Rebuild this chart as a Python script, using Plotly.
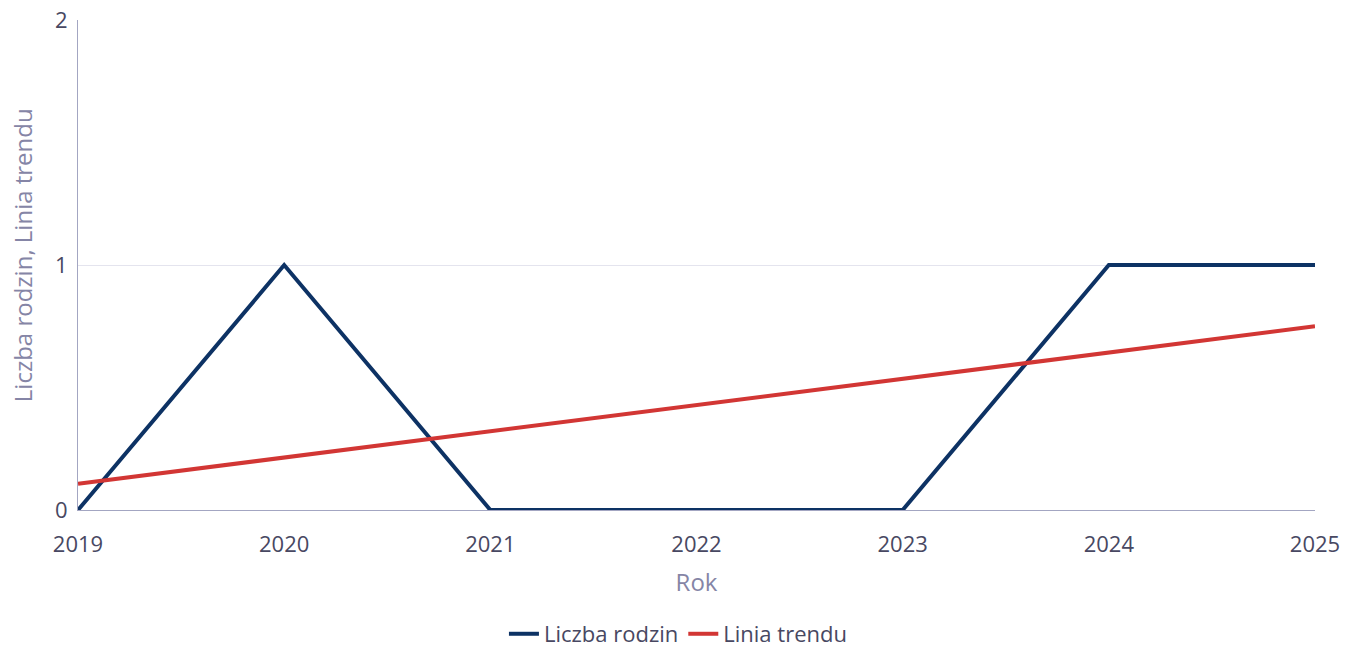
import plotly.graph_objects as go

years = [2019, 2020, 2021, 2022, 2023, 2024, 2025]
liczba_rodzin = [0, 1, 0, 0, 0, 1, 1]
linia_trendu = [0.107, 0.214, 0.321, 0.429, 0.536, 0.643, 0.75]
y_title = "Liczba rodzin, Linia trendu"

text_color = "#484862"
title_color = "#8585a6"
axis_color = "#a3a6c2"
grid_color = "#e4e4ee"

fig = go.Figure()
fig.add_trace(go.Scatter(x=years, y=liczba_rodzin, mode="lines", name="Liczba rodzin",
                         line=dict(color="#0d3264", width=4)))
fig.add_trace(go.Scatter(x=years, y=linia_trendu, mode="lines", name="Linia trendu",
                         line=dict(color="#d23634", width=4)))

fig.update_layout(
    width=1354, height=648,
    margin=dict(l=70, r=47, t=12, b=146, autoexpand=False),
    paper_bgcolor="white", plot_bgcolor="white",
    font=dict(family="Open Sans", size=22, color=text_color),
    showlegend=True,
    legend=dict(orientation="h", x=0.485, xanchor="center", y=-0.253, yanchor="middle",
                font=dict(size=22, color=text_color)),
    xaxis=dict(
        range=[2019, 2025], tickmode="array", tickvals=years, ticktext=[str(y) for y in years],
        showgrid=False, showline=True, linecolor=axis_color, linewidth=1,
        zeroline=False, ticks="", automargin=False, ticklabelstandoff=15,
        tickfont=dict(size=22, color=text_color),
        title=dict(text="Rok", font=dict(size=24, color=title_color), standoff=16),
    ),
    yaxis=dict(
        range=[0, 2.0005], tickmode="array", tickvals=[0, 1, 2], ticktext=["0", "1", "2"],
        showgrid=True, gridcolor=grid_color,
        showline=True, linecolor=axis_color, linewidth=1, zeroline=False,
        ticks="", automargin=False, ticklabelstandoff=5, ticklabeloverflow="allow",
        tickfont=dict(size=22, color=text_color),
    ),
    annotations=[dict(text=y_title, textangle=-90, showarrow=False,
                      xref="paper", yref="paper", x=-0.0453, y=0.52,
                      xanchor="center", yanchor="middle",
                      font=dict(size=24, color=title_color))],
)

fig.write_html("out.html")
